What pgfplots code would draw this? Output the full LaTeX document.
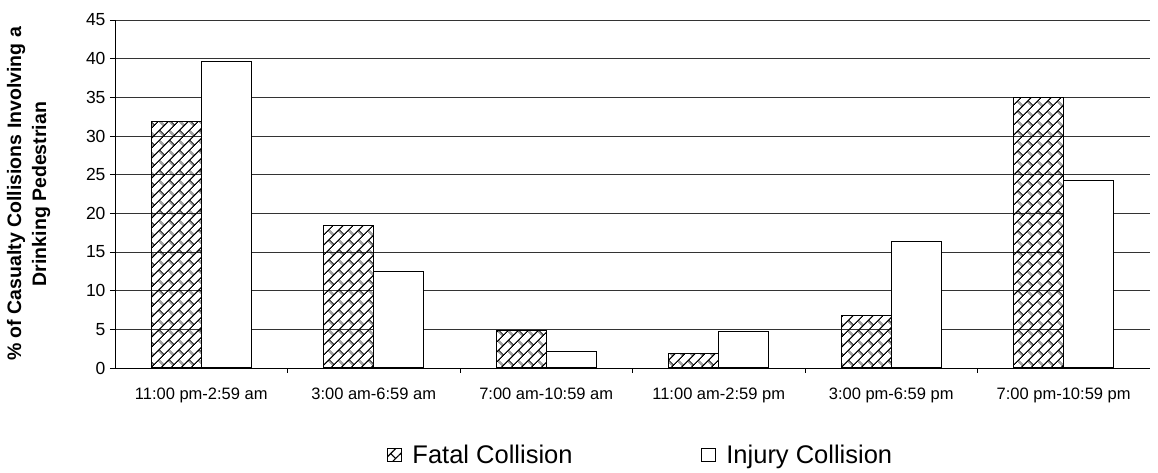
\documentclass[border=0pt]{standalone}
\usepackage{fontspec}
\setmainfont{Liberation Sans}
\usepackage{pgfplots}
\pgfplotsset{compat=1.18}
\usetikzlibrary{patterns.meta}

\tikzdeclarepattern{
  name=diagbricks,
  type=uncolored,
  bounding box={(0,0) and (14pt,14pt)},
  tile size={(14pt,14pt)},
  tile transformation={rotate=45},
  code={
    \draw[line width=1.2pt] (-1pt,3.5pt)--(15pt,3.5pt) (-1pt,10.5pt)--(15pt,10.5pt)
      (3pt,3.5pt)--(3pt,10.5pt) (10pt,10.5pt)--(10pt,15pt) (10pt,-1pt)--(10pt,3.5pt);
  }
}

\begin{document}
\begin{tikzpicture}
\begin{axis}[
  at={(0,0)}, anchor=south west,
  scale only axis,
  width=1035pt, height=348pt,
  ymin=0, ymax=45, ytick={0,5,...,45},
  xmin=-0.5, xmax=5.5,
  xtick={0,...,5},
  xticklabels={11:00 pm-2:59 am,3:00 am-6:59 am,7:00 am-10:59 am,11:00 am-2:59 pm,3:00 pm-6:59 pm,7:00 pm-10:59 pm},
  minor xtick={0.5,1.5,2.5,3.5,4.5},
  major x tick style={draw=none},
  tick align=outside,
  major tick length=5pt, minor tick length=5pt,
  axis x line*=bottom, axis y line*=left,
  axis line style={black, line width=0.9pt},
  ymajorgrids, grid style={black!80, line width=0.8pt},
  tick style={black, line width=0.8pt},
  yticklabel style={font=\fontsize{17.5}{17.5}\selectfont, xshift=-1pt},
  xticklabel style={font=\fontsize{16.5}{16.5}\selectfont, yshift=-11pt},
  /pgf/number format/assume math mode=true,
  ylabel={\% of Casualty Collisions Involving a\\Drinking Pedestrian},
  ylabel style={font=\bfseries\fontsize{19.5}{25}\selectfont, align=center, yshift=29pt},
  ybar=0pt, bar width=50pt,
  legend columns=2,
  legend style={draw=none, at={(axis description cs:0.5077,-0.25)}, anchor=center,
    font=\fontsize{25.5}{25.5}\selectfont,
    /tikz/every odd column/.append style={column sep=9pt},
    /tikz/every even column/.append style={column sep=126pt}},
  legend image code/.code={\draw[#1, line width=0.8pt] (0pt,-6.5pt) rectangle (14pt,7pt);},
]
\addplot[draw=black, line width=1.1pt, pattern=diagbricks, pattern color=black]
  coordinates {(0,31.9) (1,18.4) (2,4.9) (3,1.9) (4,6.8) (5,35.0)};
\addplot[draw=black, line width=1.1pt, fill=white]
  coordinates {(0,39.6) (1,12.5) (2,2.1) (3,4.7) (4,16.3) (5,24.3)};
\legend{Fatal Collision, Injury Collision}
\end{axis}
\pgfresetboundingbox
\path (-115pt,-105pt) rectangle (1043pt,20pt+348pt);
\end{tikzpicture}
\end{document}
